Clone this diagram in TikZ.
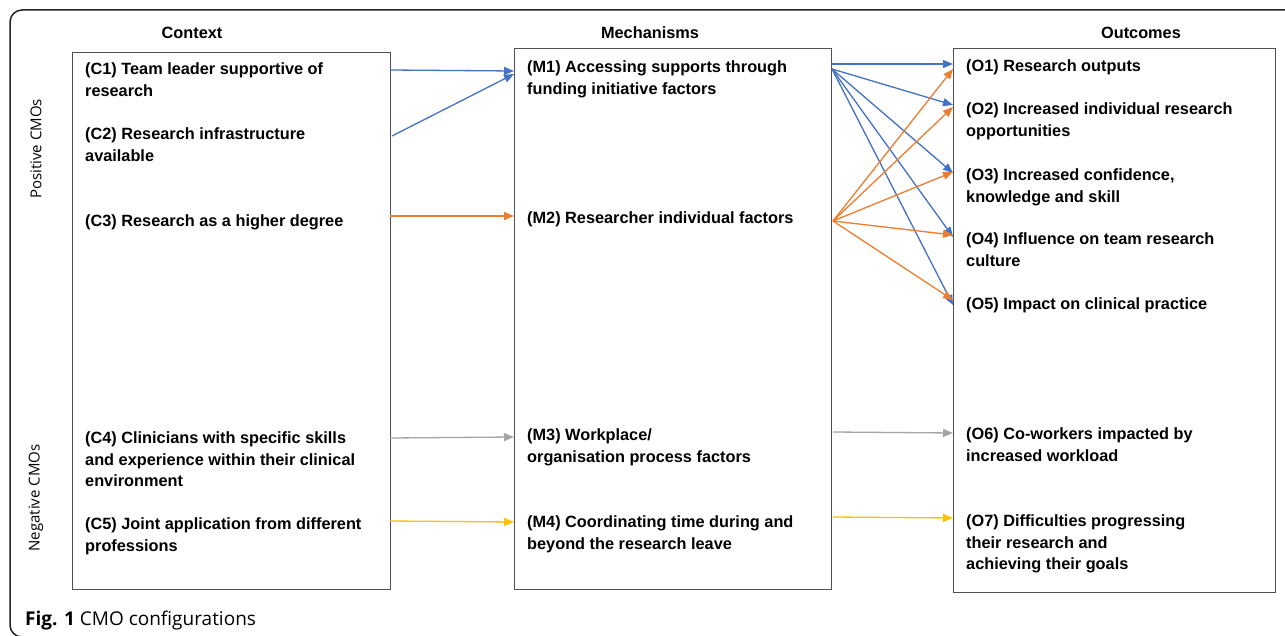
\documentclass[tikz,border=0pt]{standalone}
\usepackage{fontspec}
\setmainfont{Liberation Sans}
\newfontfamily\capfont{Open Sans}
\usetikzlibrary{arrows.meta}
\definecolor{cblue}{HTML}{4472C4}
\definecolor{corange}{HTML}{ED7D31}
\definecolor{cgray}{HTML}{A5A5A5}
\definecolor{cyellow}{HTML}{FFC000}
\definecolor{boxgray}{HTML}{505050}
\definecolor{framecol}{HTML}{222222}
\newcommand{\tlines}[1]{\begin{tabular}[t]{@{}l@{}}#1\end{tabular}}
\begin{document}
\begin{tikzpicture}[x=1pt,y=-1pt,
  box/.style={draw=boxgray, line width=1pt, anchor=north west, inner sep=0pt},
  item/.style={anchor=base west, inner sep=0pt, font=\fontsize{16.3}{21.7}\selectfont\bfseries},
  head/.style={anchor=base, inner sep=0pt, font=\fontsize{16.3}{20}\selectfont\bfseries},
  side/.style={inner sep=0pt, rotate=90, font=\capfont\fontsize{15}{18}\selectfont},
  conn/.style={line width=1.3pt, -{Triangle[length=10pt,width=8pt]}},
  cb/.style={conn, draw=cblue, fill=cblue},
  co/.style={conn, draw=corange, fill=corange},
  cg/.style={conn, draw=cgray, fill=cgray},
  cy/.style={conn, draw=cyellow, fill=cyellow}]
\useasboundingbox (0,0) rectangle (1285,636);
\fill[white] (0,0) rectangle (1285,636);
% outer frame
\draw[framecol, line width=1.5pt, rounded corners=12pt] (1320,10) -- (10,10) -- (10,637) -- (1320,637);

% boxes
\node[box, minimum width=318pt, minimum height=537pt] (cbox) at (72,52) {};
\node[box, minimum width=317pt, minimum height=541pt] (mbox) at (514,48) {};
\node[box, minimum width=322pt, minimum height=544pt] (obox) at (953,48) {};

% headers
\node[head] (hc) at (192,39) {Context};
\node[head] (hm) at (650,39) {Mechanisms};
\node[head] (ho) at (1141,39) {Outcomes};

% side labels
\node[side] (pos) at (36,149) {Positive CMOs};
\node[side] (neg) at (36,498) {Negative CMOs};

% context items
\node[item] (c1) at (85,74.5) {\tlines{(C1) Team leader supportive of\\research}};
\node[item] (c2) at (85,139.5) {\tlines{(C2) Research infrastructure\\available}};
\node[item] (c3) at (85,226.5) {\tlines{(C3) Research as a higher degree}};
\node[item] (c4) at (85,443.5) {\tlines{(C4) Clinicians with specific skills\\and experience within their clinical\\environment}};
\node[item] (c5) at (85,529.5) {\tlines{(C5) Joint application from different\\professions}};

% mechanism items
\node[item] (m1) at (527,72.5) {\tlines{(M1) Accessing supports through\\funding initiative factors}};
\node[item] (m2) at (527,223.5) {\tlines{(M2) Researcher individual factors}};
\node[item] (m3) at (527,440.5) {\tlines{(M3) Workplace/\\organisation process factors}};
\node[item] (m4) at (527,527.5) {\tlines{(M4) Coordinating time during and\\beyond the research leave}};

% outcome items
\node[item] (o1) at (966,71.5) {\tlines{(O1) Research outputs}};
\node[item] (o2) at (966,114.5) {\tlines{(O2) Increased individual research\\opportunities}};
\node[item] (o3) at (966,180.5) {\tlines{(O3) Increased confidence,\\knowledge and skill}};
\node[item] (o4) at (966,244.5) {\tlines{(O4) Influence on team research\\culture}};
\node[item] (o5) at (966,309.5) {\tlines{(O5) Impact on clinical practice}};
\node[item] (o6) at (966,439.5) {\tlines{(O6) Co-workers impacted by\\increased workload}};
\node[item] (o7) at (966,526.5) {\tlines{(O7) Difficulties progressing\\their research and\\achieving their goals}};

% caption
\node[anchor=base west, inner sep=0pt, font=\capfont\fontsize{19}{22}\selectfont] (cap) at (25,625) {\textbf{Fig. 1} CMO configurations};

% connector end points
\coordinate (c1s) at (390,70);
\coordinate (c2s) at (392,136);
\coordinate (c3s) at (390,216);
\coordinate (c4s) at (390,438);
\coordinate (c5s) at (390,521);
\coordinate (m1a) at (514,71);
\coordinate (m1b) at (514,74);
\coordinate (m2a) at (514,216);
\coordinate (m3a) at (514,437);
\coordinate (m4a) at (514,522);
\coordinate (m1s) at (831,64);
\coordinate (m1t) at (832,69);
\coordinate (m2s) at (833,221);
\coordinate (m3s) at (833,432);
\coordinate (m4s) at (833,517);
\coordinate (o1b) at (953,64);
\coordinate (o2b) at (953,105);
\coordinate (o3b) at (953,173);
\coordinate (o4b) at (953,237);
\coordinate (o5b) at (953,305);
\coordinate (o1r) at (953,69);
\coordinate (o2r) at (953,107);
\coordinate (o3r) at (953,172);
\coordinate (o4r) at (953,235);
\coordinate (o5r) at (953,300);
\coordinate (o6a) at (953,433);
\coordinate (o7a) at (953,518);

% connectors context -> mechanisms
\draw[cb] (c1s) -- (m1a);
\draw[cb] (c2s) -- (m1b);
\draw[co] (c3s) -- (m2a);
\draw[cg] (c4s) -- (m3a);
\draw[cy] (c5s) -- (m4a);

% mechanisms -> outcomes
\draw[cb] (m1s) -- (o1b);
\draw[cb] (m1t) -- (o2b);
\draw[cb] (m1t) -- (o3b);
\draw[cb] (m1t) -- (o4b);
\draw[cb] (m1t) -- (o5b);
\draw[co] (m2s) -- (o1r);
\draw[co] (m2s) -- (o2r);
\draw[co] (m2s) -- (o3r);
\draw[co] (m2s) -- (o4r);
\draw[co] (m2s) -- (o5r);
\draw[cg] (m3s) -- (o6a);
\draw[cy] (m4s) -- (o7a);
\end{tikzpicture}
\end{document}
